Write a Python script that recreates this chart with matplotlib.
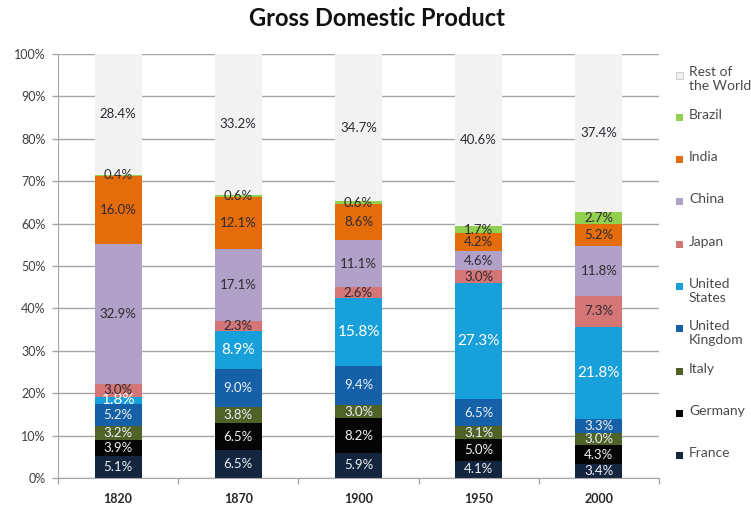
import numpy as np
import matplotlib
matplotlib.use('Agg')
import matplotlib.pyplot as plt
from matplotlib.patches import Rectangle

plt.rcParams['font.family'] = ['Lato', 'DejaVu Sans']

# 各年份占世界GDP的比例（%）
years = ['1820', '1870', '1900', '1950', '2000']
countries = ['France', 'Germany', 'Italy', 'United\nKingdom', 'United\nStates',
             'Japan', 'China', 'India', 'Brazil', 'Rest of\nthe World']
france = [5.1, 6.5, 5.9, 4.1, 3.4]
germany = [3.9, 6.5, 8.2, 5.0, 4.3]
italy = [3.2, 3.8, 3.0, 3.1, 3.0]
uk = [5.2, 9.0, 9.4, 6.5, 3.3]
usa = [1.8, 8.9, 15.8, 27.3, 21.8]
japan = [3.0, 2.3, 2.6, 3.0, 7.3]
china = [32.9, 17.1, 11.1, 4.6, 11.8]
india = [16.0, 12.1, 8.6, 4.2, 5.2]
brazil = [0.4, 0.6, 0.6, 1.7, 2.7]
rest = [28.4, 33.2, 34.7, 40.6, 37.4]

series = [france, germany, italy, uk, usa, japan, china, india, brazil, rest]
colors = ['#14253F', '#050505', '#4F6228', '#1560A6', '#18A0DB',
          '#D47676', '#B1A0C7', '#E46C0A', '#92D050', '#F2F2F2']
dark = [True, True, True, True, True, False, False, False, False, False]

fig = plt.figure(figsize=(7.51, 5.08), dpi=100)
ax = fig.add_axes([58 / 751, 30 / 508, 601 / 751, 424 / 508])

x = np.arange(len(years))
data = np.array(series, dtype=float)
# 按列归一化成百分比堆叠
pct = data / data.sum(axis=0) * 100
bottom = np.zeros(len(years))
for i in range(len(series)):
    ax.bar(x, pct[i], 0.39, bottom=bottom, color=colors[i], zorder=2)
    for j in range(len(years)):
        yc = bottom[j] + pct[i][j] / 2
        if i == 4:
            fs, tc = 11, 'white'
        elif dark[i]:
            fs, tc = 9.5, '#EEF2F6'
        else:
            fs, tc = 9.5, '#2E2A33'
        ax.text(x[j], yc, '%.1f%%' % data[i][j], ha='center', va='center',
                fontsize=fs, color=tc, zorder=3)
    bottom += pct[i]

ax.set_xlim(-0.5, len(years) - 0.5)
ax.set_ylim(0, 100)
ax.set_yticks(np.arange(0, 101, 10))
ax.set_yticklabels(['%d%%' % v for v in range(0, 101, 10)], fontsize=9, color='#404040')
ax.yaxis.grid(True, color='#A6A6A6', linewidth=1, zorder=0)
ax.tick_params(axis='y', length=4, width=1, color='#A6A6A6', pad=5)

ax.set_xticks(x)
ax.set_xticklabels(years, fontsize=9, fontweight='bold', color='#262626')
ax.set_xticks(np.arange(-0.5, len(years), 1), minor=True)
ax.tick_params(axis='x', which='major', length=0, pad=11)
ax.tick_params(axis='x', which='minor', length=4, width=1, color='#A6A6A6')

for s in ['top', 'right']:
    ax.spines[s].set_visible(False)
for s in ['left', 'bottom']:
    ax.spines[s].set_color('#A6A6A6')

fig.text(377 / 751, 1 - 18 / 508, 'Gross Domestic Product', ha='center', va='center',
         fontsize=17, fontweight='bold', color='#111111')

# 图例：从上到下倒序排列
W, H = 751.0, 508.0
for k, i in enumerate(range(len(series) - 1, -1, -1)):
    ypix = 75 + k * 42.3
    fig.patches.append(Rectangle((676 / W, 1 - (ypix + 3.5) / H), 7 / W, 7 / H,
                                 transform=fig.transFigure, facecolor=colors[i],
                                 edgecolor='#C8C8C8' if i == 9 else 'none', linewidth=0.6))
    fig.text(689 / W, 1 - (ypix - 8.5) / H, countries[i], ha='left', va='top',
             fontsize=10, color='#4A4A4A', linespacing=1.2)

plt.savefig('out.png', dpi=100)
